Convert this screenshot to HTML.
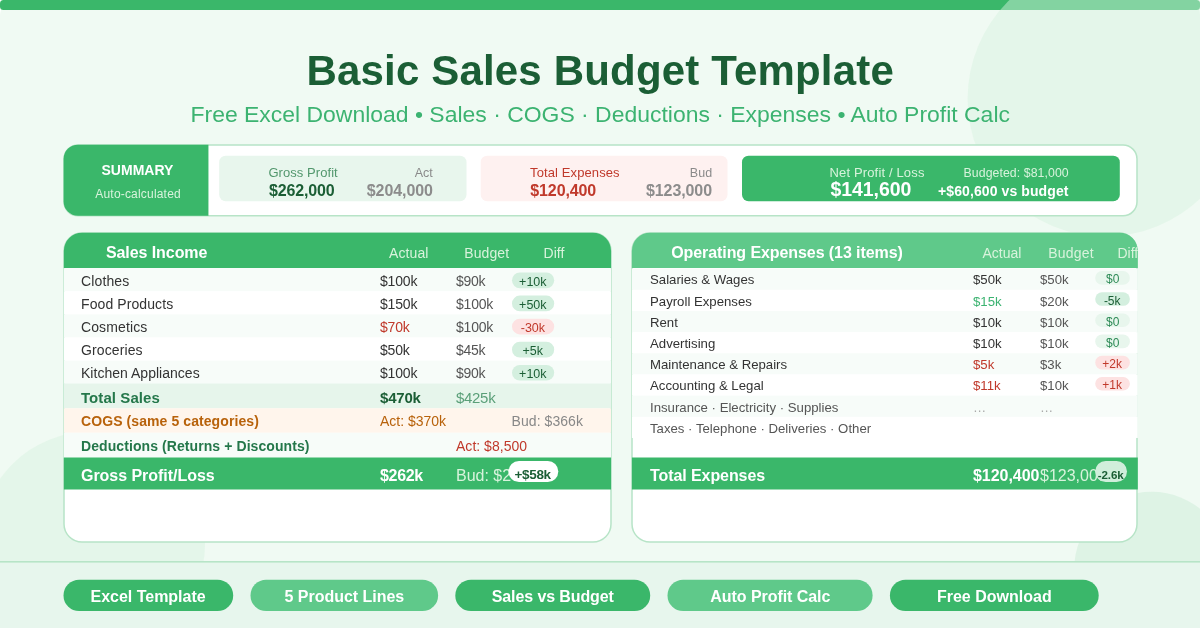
<!DOCTYPE html>
<html><head><meta charset="utf-8"><title>Basic Sales Budget Template</title>
<style>
html,body{margin:0;padding:0;background:#fff;overflow:hidden}
svg{display:block;font-family:'Liberation Sans', Arial, sans-serif;}
text{white-space:pre}
</style></head><body>
<svg width="1200" height="628" viewBox="0 0 1200 628">
<defs>
<clipPath id="cs"><rect x="63.85" y="232.7" width="547.2" height="310.05" rx="18.2"/></clipPath>
<clipPath id="ce"><rect x="631.9" y="232.7" width="505.9" height="310.05" rx="18.2"/></clipPath>
</defs>
<rect width="1200" height="628" rx="16" fill="#f0faf3"/>
<rect x="0" y="0" width="1200" height="10" rx="3.5" fill="#3ab76a"/>
<circle cx="1105.2" cy="98.9" r="137.6" fill="#d7f2e0" fill-opacity="0.47"/>
<circle cx="92" cy="544.3" r="113" fill="#d7f2e0" fill-opacity="0.47"/>
<circle cx="1151.6" cy="569.2" r="77.4" fill="#b7e4c7" fill-opacity="0.3"/>

<text x="306.48" y="85" font-size="42" font-weight="bold" fill="#1b5e35" letter-spacing="0.174">Basic Sales Budget Template</text>
<text transform="translate(190.51 121.5) scale(1.0437 1)" font-size="22" fill="#3cb371">Free Excel Download • Sales · COGS · Deductions · Expenses • Auto Profit Calc</text>
<rect x="64" y="145" width="1073" height="70.7" rx="14" fill="#fff" stroke="#b7e4c7" stroke-width="1.5"/>
<path d="M78 144.65H208.45V215.8H78A14.4 14.4 0 0 1 63.6 201.4V159.05A14.4 14.4 0 0 1 78 144.65Z" fill="#3ab76a"/>
<text x="101.48" y="175" font-size="14" font-weight="bold" fill="#fff" letter-spacing="0.026">SUMMARY</text>
<text x="95.30" y="197.8" font-size="12" fill="#d8f3dc" letter-spacing="0.190">Auto-calculated</text>
<rect x="219.2" y="155.7" width="247.3" height="45.5" rx="6.5" fill="#e8f6ed"/>
<text x="268.39" y="177" font-size="13" fill="#52976d" letter-spacing="0.067">Gross Profit</text>
<text x="269.00" y="195.8" font-size="16" font-weight="bold" fill="#1b5e35" letter-spacing="-0.155">$262,000</text>
<text x="414.70" y="177" font-size="12.5" fill="#8a8a8a">Act</text>
<text x="366.80" y="195.8" font-size="16" font-weight="bold" fill="#8c8c8c" letter-spacing="-0.084">$204,000</text>
<rect x="480.7" y="155.7" width="246.8" height="45.5" rx="6.5" fill="#fef1f0"/>
<text x="530.10" y="177" font-size="13" fill="#c0392b" letter-spacing="0.104">Total Expenses</text>
<text x="530.30" y="195.8" font-size="16" font-weight="bold" fill="#c0392b" letter-spacing="-0.112">$120,400</text>
<text x="689.86" y="177" font-size="12.5" fill="#8a8a8a">Bud</text>
<text x="646.00" y="195.8" font-size="16" font-weight="bold" fill="#8c8c8c" letter-spacing="-0.098">$123,000</text>
<rect x="742" y="155.7" width="377.8" height="45.5" rx="6.5" fill="#3ab76a"/>
<text x="829.48" y="177" font-size="13" fill="#d8f3dc" letter-spacing="0.153">Net Profit / Loss</text>
<text x="830.50" y="196" font-size="19.5" font-weight="bold" fill="#fff" letter-spacing="-0.077">$141,600</text>
<text x="963.54" y="177" font-size="12.3" fill="#d8f3dc" letter-spacing="0.075">Budgeted: $81,000</text>
<text x="938.06" y="196" font-size="14" font-weight="bold" fill="#fff" letter-spacing="0.095">+$60,600 vs budget</text>
<rect x="64" y="233" width="547" height="309" rx="18" fill="#fff" stroke="#b7e4c7" stroke-width="1.5"/>
<g clip-path="url(#cs)">
<rect x="63" y="232" width="549" height="36" fill="#3ab76a"/>
<text x="105.95" y="258" font-size="16" font-weight="bold" fill="#fff" letter-spacing="-0.075">Sales Income</text>
<text x="389.00" y="258" font-size="14" fill="#d8f3dc" letter-spacing="0.103">Actual</text>
<text x="464.21" y="258" font-size="14" fill="#d8f3dc" letter-spacing="0.115">Budget</text>
<text x="543.51" y="258" font-size="14" fill="#d8f3dc" letter-spacing="0.066">Diff</text>
<rect x="63" y="268.20" width="549" height="23.200000000000003" fill="#f7fcf9"/>
<text x="81" y="286" font-size="14" fill="#333" letter-spacing="0.128">Clothes</text>
<text x="380" y="286" font-size="14" fill="#333" letter-spacing="-0.166">$100k</text>
<text x="456" y="286" font-size="14" fill="#555" letter-spacing="-0.259">$90k</text>
<rect x="512" y="272.50" width="42.2" height="15.7" rx="7.85" fill="#d4efdf"/>
<text x="519.08" y="285.8" font-size="12.5" fill="#1b5e35">+10k</text>
<rect x="63" y="291.30" width="549" height="23.200000000000003" fill="#ffffff"/>
<text x="81" y="309" font-size="14" fill="#333" letter-spacing="0.091">Food Products</text>
<text x="380" y="309" font-size="14" fill="#333" letter-spacing="-0.166">$150k</text>
<text x="456" y="309" font-size="14" fill="#555" letter-spacing="-0.216">$100k</text>
<rect x="512" y="295.60" width="42.2" height="15.7" rx="7.85" fill="#d4efdf"/>
<text x="519.08" y="308.9" font-size="12.5" fill="#1b5e35">+50k</text>
<rect x="63" y="314.40" width="549" height="23.200000000000003" fill="#f7fcf9"/>
<text x="81" y="332" font-size="14" fill="#333" letter-spacing="0.112">Cosmetics</text>
<text x="380" y="332" font-size="14" fill="#c0392b" letter-spacing="-0.192">$70k</text>
<text x="456" y="332" font-size="14" fill="#555" letter-spacing="-0.216">$100k</text>
<rect x="512" y="318.70" width="42.2" height="15.7" rx="7.85" fill="#fde2e2"/>
<text x="520.75" y="332.0" font-size="12.5" fill="#c0392b">-30k</text>
<rect x="63" y="337.50" width="549" height="23.200000000000003" fill="#ffffff"/>
<text x="81" y="355" font-size="14" fill="#333" letter-spacing="0.107">Groceries</text>
<text x="380" y="355" font-size="14" fill="#333" letter-spacing="-0.192">$50k</text>
<text x="456" y="355" font-size="14" fill="#555" letter-spacing="-0.259">$45k</text>
<rect x="512" y="341.80" width="42.2" height="15.7" rx="7.85" fill="#d4efdf"/>
<text x="522.56" y="355.1" font-size="12.5" fill="#1b5e35">+5k</text>
<rect x="63" y="360.60" width="549" height="23.200000000000003" fill="#f7fcf9"/>
<text x="81" y="378" font-size="14" fill="#333" letter-spacing="0.021">Kitchen Appliances</text>
<text x="380" y="378" font-size="14" fill="#333" letter-spacing="-0.166">$100k</text>
<text x="456" y="378" font-size="14" fill="#555" letter-spacing="-0.259">$90k</text>
<rect x="512" y="364.90" width="42.2" height="15.7" rx="7.85" fill="#d4efdf"/>
<text x="519.08" y="378.2" font-size="12.5" fill="#1b5e35">+10k</text>
<rect x="63" y="383.5" width="549" height="24.9" fill="#e6f5eb"/>
<text x="81" y="403" font-size="15" font-weight="bold" fill="#24774a" letter-spacing="0.072">Total Sales</text>
<text x="380" y="403" font-size="15" font-weight="bold" fill="#1b5e35" letter-spacing="-0.202">$470k</text>
<text x="456" y="403" font-size="15" fill="#5a9f78" letter-spacing="-0.301">$425k</text>
<rect x="63" y="408.3" width="549" height="24.5" fill="#fff5ec"/>
<text x="81" y="426" font-size="14" font-weight="bold" fill="#b8620b" letter-spacing="0.085">COGS (same 5 categories)</text>
<text x="380" y="426" font-size="14" fill="#b8620b" letter-spacing="-0.019">Act: $370k</text>
<text x="511.61" y="426" font-size="14" fill="#888" letter-spacing="0.049">Bud: $366k</text>
<rect x="63" y="432.7" width="549" height="25.3" fill="#f7fcf9"/>
<text x="81" y="451" font-size="14" font-weight="bold" fill="#24774a" letter-spacing="0.082">Deductions (Returns + Discounts)</text>
<text x="456" y="451" font-size="14" fill="#c0392b" letter-spacing="0.022">Act: $8,500</text>
<rect x="63" y="457.5" width="549" height="32" fill="#3ab76a"/>
<text x="81" y="481" font-size="16" font-weight="bold" fill="#fff" letter-spacing="-0.038">Gross Profit/Loss</text>
<text x="380" y="481" font-size="16" font-weight="bold" fill="#fff" letter-spacing="-0.323">$262k</text>
<text x="456" y="481" font-size="16" fill="#d8f3dc">Bud: $204k</text>
<rect x="508.5" y="461" width="49.8" height="21" rx="10.5" fill="#fff"/>
<text x="514.58" y="479.3" font-size="13.5" font-weight="bold" fill="#1b5e35" letter-spacing="-0.345">+$58k</text>
</g>
<rect x="632" y="233" width="505" height="309" rx="18" fill="#fff" stroke="#b7e4c7" stroke-width="1.5"/>
<g clip-path="url(#ce)">
<rect x="631" y="232" width="507" height="36" fill="#5fc98a"/>
<text x="671.20" y="258" font-size="16" font-weight="bold" fill="#fff" letter-spacing="-0.081">Operating Expenses (13 items)</text>
<text x="982.40" y="258" font-size="14" fill="#d8f3dc" letter-spacing="0.023">Actual</text>
<text x="1048.31" y="258" font-size="14" fill="#d8f3dc" letter-spacing="0.195">Budget</text>
<text x="1117.41" y="258" font-size="14" fill="#d8f3dc">Diff</text>
<rect x="631" y="268.60" width="507" height="21.270000000000003" fill="#f7fcf9"/>
<text x="650" y="284" font-size="13.2" fill="#333">Salaries &amp; Wages</text>
<text x="973" y="284" font-size="13.2" fill="#333">$50k</text>
<text x="1040" y="284" font-size="13.2" fill="#555">$50k</text>
<rect x="1095.2" y="271.10" width="34.7" height="13.6" rx="6.8" fill="#e8f6ed"/>
<text x="1105.98" y="283" font-size="12" fill="#2e8b57">$0</text>
<rect x="631" y="289.77" width="507" height="21.270000000000003" fill="#ffffff"/>
<text x="650" y="306" font-size="13.2" fill="#333">Payroll Expenses</text>
<text x="973" y="306" font-size="13.2" fill="#3cb371">$15k</text>
<text x="1040" y="306" font-size="13.2" fill="#555">$20k</text>
<rect x="1095.2" y="292.27" width="34.7" height="13.6" rx="6.8" fill="#d4efdf"/>
<text x="1103.88" y="305" font-size="12" fill="#1b5e35">-5k</text>
<rect x="631" y="310.94" width="507" height="21.270000000000003" fill="#f7fcf9"/>
<text x="650" y="327" font-size="13.2" fill="#333">Rent</text>
<text x="973" y="327" font-size="13.2" fill="#333">$10k</text>
<text x="1040" y="327" font-size="13.2" fill="#555">$10k</text>
<rect x="1095.2" y="313.44" width="34.7" height="13.6" rx="6.8" fill="#e8f6ed"/>
<text x="1105.98" y="326" font-size="12" fill="#2e8b57">$0</text>
<rect x="631" y="332.11" width="507" height="21.270000000000003" fill="#ffffff"/>
<text x="650" y="348" font-size="13.2" fill="#333">Advertising</text>
<text x="973" y="348" font-size="13.2" fill="#333">$10k</text>
<text x="1040" y="348" font-size="13.2" fill="#555">$10k</text>
<rect x="1095.2" y="334.61" width="34.7" height="13.6" rx="6.8" fill="#e8f6ed"/>
<text x="1105.98" y="347" font-size="12" fill="#2e8b57">$0</text>
<rect x="631" y="353.28" width="507" height="21.270000000000003" fill="#f7fcf9"/>
<text x="650" y="369" font-size="13.2" fill="#333">Maintenance &amp; Repairs</text>
<text x="973" y="369" font-size="13.2" fill="#c0392b">$5k</text>
<text x="1040" y="369" font-size="13.2" fill="#555">$3k</text>
<rect x="1095.2" y="355.78" width="34.7" height="13.6" rx="6.8" fill="#fde2e2"/>
<text x="1102.28" y="368" font-size="12" fill="#c0392b">+2k</text>
<rect x="631" y="374.45" width="507" height="21.270000000000003" fill="#ffffff"/>
<text x="650" y="390" font-size="13.2" fill="#333">Accounting &amp; Legal</text>
<text x="973" y="390" font-size="13.2" fill="#c0392b">$11k</text>
<text x="1040" y="390" font-size="13.2" fill="#555">$10k</text>
<rect x="1095.2" y="376.95" width="34.7" height="13.6" rx="6.8" fill="#fde2e2"/>
<text x="1102.28" y="389" font-size="12" fill="#c0392b">+1k</text>
<rect x="631" y="395.62" width="507" height="21.270000000000003" fill="#f7fcf9"/>
<text x="650" y="412" font-size="13.2" fill="#555">Insurance · Electricity · Supplies</text>
<text x="973" y="412" font-size="13.2" fill="#aaa">…</text>
<text x="1040" y="412" font-size="13.2" fill="#aaa">…</text>
<rect x="631" y="416.79" width="507" height="21.17" fill="#ffffff"/>
<text x="650" y="433" font-size="13.2" fill="#555">Taxes · Telephone · Deliveries · Other</text>
<rect x="631" y="457.5" width="507" height="32" fill="#3ab76a"/>
<text x="650" y="481" font-size="16" font-weight="bold" fill="#fff" letter-spacing="-0.080">Total Expenses</text>
<text x="973" y="481" font-size="16" font-weight="bold" fill="#fff" letter-spacing="-0.041">$120,400</text>
<text x="1040" y="481" font-size="16" fill="#d8f3dc">$123,000</text>
<rect x="1095.2" y="461" width="31.8" height="21" rx="10.5" fill="#d0eedb"/>
<text x="1097.84" y="479" font-size="11.6" font-weight="bold" fill="#1b5e35" letter-spacing="-0.138">-2.6k</text>
</g>
<rect x="0" y="561.8" width="1200" height="66.2" fill="#e7f6ed"/>
<rect x="0" y="561" width="1200" height="1.6" fill="#b7e4c7"/>
<rect x="63.5" y="579.7" width="169.7" height="31.4" rx="15.7" fill="#3ab76a"/>
<text x="90.50" y="602" font-size="16" font-weight="bold" fill="#fff" letter-spacing="-0.013">Excel Template</text>
<rect x="250.5" y="579.7" width="187.6" height="31.4" rx="15.7" fill="#5fc98a"/>
<text x="284.55" y="602" font-size="16" font-weight="bold" fill="#fff" letter-spacing="-0.030">5 Product Lines</text>
<rect x="455.3" y="579.7" width="194.9" height="31.4" rx="15.7" fill="#3ab76a"/>
<text x="491.75" y="602" font-size="16" font-weight="bold" fill="#fff" letter-spacing="-0.105">Sales vs Budget</text>
<rect x="667.5" y="579.7" width="205.1" height="31.4" rx="15.7" fill="#5fc98a"/>
<text x="710.35" y="602" font-size="16" font-weight="bold" fill="#fff" letter-spacing="-0.063">Auto Profit Calc</text>
<rect x="889.9" y="579.7" width="208.8" height="31.4" rx="15.7" fill="#3ab76a"/>
<text x="936.90" y="602" font-size="16" font-weight="bold" fill="#fff" letter-spacing="0.012">Free Download</text>
</svg></body></html>
